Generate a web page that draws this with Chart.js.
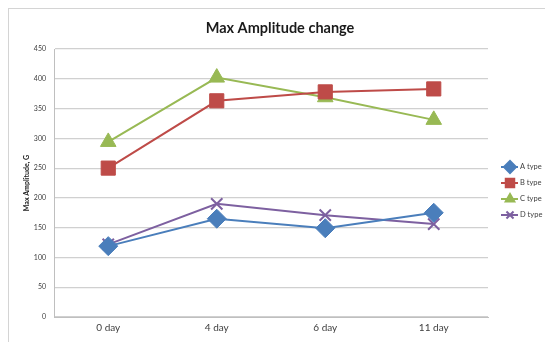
<!DOCTYPE html>
<html>
<head>
<meta charset="utf-8">
<script src="https://cdn.jsdelivr.net/npm/chart.js@4/dist/chart.umd.min.js"></script>
<style>
  html, body { margin: 0; padding: 0; background: #ffffff; }
  #wrap { width: 545px; height: 342px; }
</style>
</head>
<body>
<div id="wrap"><canvas id="c" width="545" height="342"></canvas></div>
<script>
// Measurement days and max amplitude (G) per type
const days = ['0 day', '4 day', '6 day', '11 day'];
const typeA = [119, 165, 149, 175];
const typeB = [250, 363, 378, 383];
const typeC = [294, 402, 369, 331];
const typeD = [122, 190, 171, 156];
const seriesNames = ['A type', 'B type', 'C type', 'D type'];
const yTicks = [0, 50, 100, 150, 200, 250, 300, 350, 400, 450];
const chartTitle = 'Max Amplitude change';

const FONT = 'Lato, "Liberation Sans", sans-serif';
const colors = ['#4a7ebb', '#be4b48', '#98b954', '#7d60a0'];
const styles = ['rectRot', 'rect', 'triangle', 'crossRot'];
const radii = [9.5, 10, 9, 8];

function mkSet(i, data) {
  return {
    label: seriesNames[i],
    data: data,
    borderColor: colors[i],
    backgroundColor: colors[i],
    borderWidth: 2,
    pointStyle: styles[i],
    pointRadius: radii[i],
    pointHoverRadius: radii[i],
    pointBorderWidth: i === 3 ? 2 : 1,
    pointBorderColor: colors[i],
    pointBackgroundColor: colors[i],
    tension: 0
  };
}

// Outer frame, centred title and a line-and-marker legend on the right
const framePlugin = {
  id: 'frameAndLegend',
  beforeDraw(chart) {
    const ctx = chart.ctx;
    ctx.save();
    ctx.strokeStyle = '#d4d4d4';
    ctx.lineWidth = 1;
    ctx.strokeRect(8.5, 8.5, 560, 360);
    ctx.fillStyle = '#1a1a1a';
    ctx.font = 'bold 14.5px ' + FONT;
    ctx.textAlign = 'center';
    ctx.textBaseline = 'middle';
    ctx.fillText(chartTitle, 280, 28);
    ctx.restore();
  },
  afterDraw(chart) {
    const ctx = chart.ctx;
    const x0 = 501, x1 = 518, cx = 510;
    const ys = [167, 183, 199, 215];
    ctx.save();
    chart.data.datasets.forEach((ds, i) => {
      const y = ys[i];
      ctx.strokeStyle = ds.borderColor;
      ctx.lineWidth = 2;
      ctx.beginPath();
      ctx.moveTo(x0, y);
      ctx.lineTo(x1, y);
      ctx.stroke();
      ctx.fillStyle = ds.borderColor;
      ctx.strokeStyle = ds.borderColor;
      const r = Math.round(ds.pointRadius * 0.6);
      Chart.helpers.drawPoint(ctx, {
        pointStyle: ds.pointStyle,
        rotation: 0,
        radius: r,
        borderWidth: ds.pointBorderWidth
      }, cx, y);
      ctx.fillStyle = '#404040';
      ctx.font = '7.5px ' + FONT;
      ctx.textBaseline = 'middle';
      ctx.textAlign = 'left';
      ctx.fillText(ds.label, 520, y);
    });
    ctx.restore();
  }
};

new Chart(document.getElementById('c'), {
  type: 'line',
  data: {
    labels: days,
    datasets: [mkSet(0, typeA), mkSet(1, typeB), mkSet(2, typeC), mkSet(3, typeD)]
  },
  plugins: [framePlugin],
  options: {
    responsive: false,
    animation: false,
    events: [],
    layout: { padding: { left: 8, right: 57, top: 49, bottom: 0 } },
    plugins: {
      legend: { display: false },
      tooltip: { enabled: false },
      title: { display: false }
    },
    scales: {
      x: {
        offset: true,
        grid: { display: false, drawTicks: false },
        border: { display: true, color: '#bfbfbf', width: 1 },
        ticks: { color: '#404040', font: { family: FONT, size: 10 }, padding: 5 },
        afterFit(s) { s.height = 25; }
      },
      y: {
        min: 0,
        max: 450,
        afterBuildTicks(s) { s.ticks = yTicks.map(v => ({ value: v })); },
        grid: { color: '#d0d0d0', lineWidth: 1.2, drawTicks: false },
        border: { display: true, color: '#bfbfbf', width: 1 },
        ticks: { color: '#404040', font: { family: FONT, size: 7 }, padding: 8 },
        title: {
          display: true,
          text: 'Max Amplitude, G',
          color: '#1a1a1a',
          font: { family: FONT, size: 7, weight: 'bold' },
          padding: { top: 15, bottom: 0 }
        },
        afterFit(s) { s.width = 46; }
      }
    }
  }
});
</script>
</body>
</html>
